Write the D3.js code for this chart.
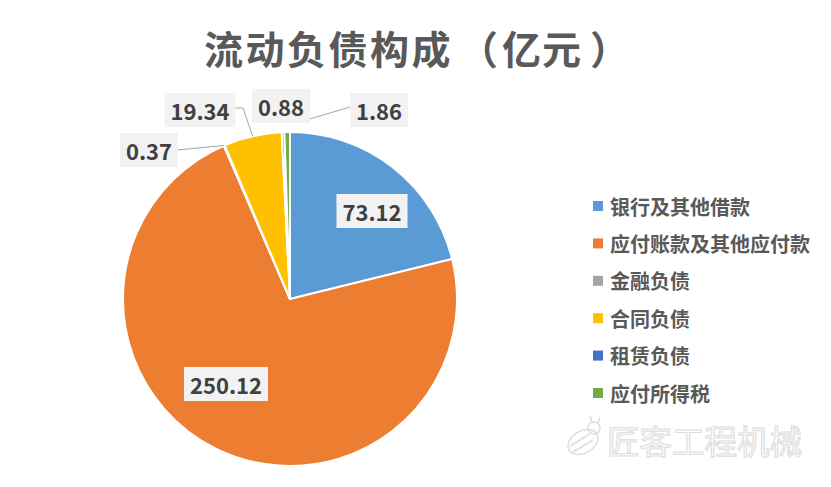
<!DOCTYPE html>
<html><head><meta charset="utf-8">
<script src="https://cdn.jsdelivr.net/npm/d3@7"></script>
<style>html,body{margin:0;padding:0;background:#fff;}</style>
</head><body>
<svg id="c" width="831" height="487"></svg>
<script>
const categories = ["银行及其他借款","应付账款及其他应付款","金融负债","合同负债","租赁负债","应付所得税"];
const values = [73.12, 250.12, 0.37, 19.34, 0.88, 1.86];
const labels = ["73.12","250.12","0.37","19.34","0.88","1.86"];
const colors = ["#5B9BD5","#ED7D31","#A5A5A5","#FFC000","#4472C4","#70AD47"];
const titleMain = "流动负债构成";
const titleUnit = ["（","亿元","）"];

// layout (not data)
const W = 831, H = 487, cx = 290, cy = 299, R = 167;
const FONT = "'Microsoft YaHei','Noto Sans CJK SC',sans-serif";
const labelLayout = [
  {x:372, y:211, line:null},
  {x:226, y:384, line:null},
  {x:149, y:150, line:"h"},
  {x:200, y:110, line:"elbow"},
  {x:281, y:106, line:null},
  {x:379, y:110, line:"diag"}
];

const svg = d3.select("#c");
svg.append("rect").attr("width",W).attr("height",H).attr("fill","#fff");

const tt = svg.append("text").attr("x",204).attr("y",64)
  .attr("font-family",FONT).attr("font-weight","bold").attr("font-size",39)
  .attr("fill","#595959");
tt.append("tspan").attr("letter-spacing",2.5).text(titleMain);
tt.append("tspan").attr("dx",6).text(titleUnit[0]);
tt.append("tspan").attr("dx",4).attr("letter-spacing",1).text(titleUnit[1]);
tt.append("tspan").attr("dx",8).text(titleUnit[2]);

const data = categories.map((c,i)=>({c, v:values[i], label:labels[i], color:colors[i], i}));
const pie = d3.pie().sort(null).value(d=>d.v).startAngle(0).endAngle(2*Math.PI);
const arcs = pie(data);
const arc = d3.arc().innerRadius(0).outerRadius(R);

const g = svg.append("g").attr("transform",`translate(${cx},${cy})`);
g.selectAll("path").data(arcs).enter().append("path")
  .attr("d",arc).attr("fill",d=>d.data.color)
  .attr("stroke","#fff").attr("stroke-width",2).attr("stroke-linejoin","round");

function edgePoint(a, r){
  const m = (a.startAngle+a.endAngle)/2;
  return [cx + r*Math.sin(m), cy - r*Math.cos(m)];
}

const lg = svg.append("g").attr("stroke","#A6A6A6").attr("stroke-width",1).attr("fill","none");
arcs.forEach((a,i)=>{
  const L = labelLayout[i];
  if(!L.line) return;
  const p = edgePoint(a, R);
  let pts;
  if(L.line==="h") pts = [p, [L.x+28, L.y]];
  else if(L.line==="elbow") pts = [p, [L.x+43, L.y-2], [L.x+35, L.y-2]];
  else pts = [edgePoint(a,R+10).map((v,k)=>k===0?v+16:v-1), [L.x-29, L.y-3], [L.x-27, L.y-3]];
  lg.append("path").attr("d", d3.line()(pts));
});

const lb = svg.append("g");
arcs.forEach((a,i)=>{
  const L = labelLayout[i];
  const t = lb.append("text").attr("x",L.x).attr("y",L.y).attr("text-anchor","middle")
    .attr("dominant-baseline","central")
    .attr("font-family",FONT).attr("font-weight","bold").attr("font-size",22)
    .attr("fill","#404040").text(a.data.label);
  const bb = t.node().getBBox();
  lb.insert("rect", "text").attr("x",bb.x-6).attr("y",L.y-17).attr("width",bb.width+12).attr("height",34)
    .attr("fill","#F2F2F2");
});

const leg = svg.append("g").attr("transform","translate(593,206)");
const items = leg.selectAll("g").data(data).enter().append("g")
  .attr("transform",(d,i)=>`translate(0,${i*37.4})`);
items.append("rect").attr("x",0).attr("y",-5).attr("width",10).attr("height",10).attr("fill",d=>d.color);
items.append("text").attr("x",17).attr("y",0).attr("dominant-baseline","central")
  .attr("font-family",FONT).attr("font-weight","bold").attr("font-size",20)
  .attr("fill","#595959").text(d=>d.c);

const wm = svg.append("g").attr("opacity",0.85);
wm.append("text").attr("x",607).attr("y",454)
  .attr("font-family","'Noto Sans CJK SC',sans-serif").attr("font-size",32.5)
  .attr("fill","#fff").attr("stroke","#D9D9D9").attr("stroke-width",1.2).text("匠客工程机械");
const ic = wm.append("g").attr("fill","none").attr("stroke","#D9D9D9").attr("stroke-width",1.5);
ic.append("ellipse").attr("cx",583).attr("cy",442).attr("rx",16).attr("ry",11).attr("transform","rotate(-30,583,442)");
ic.append("path").attr("d","M570,446 L590,434 M573,452 L593,440");
ic.append("circle").attr("cx",594).attr("cy",428).attr("r",6);
ic.append("path").attr("d","M592,422 L590,416 M598,423 L600,417");
</script>
</body></html>
